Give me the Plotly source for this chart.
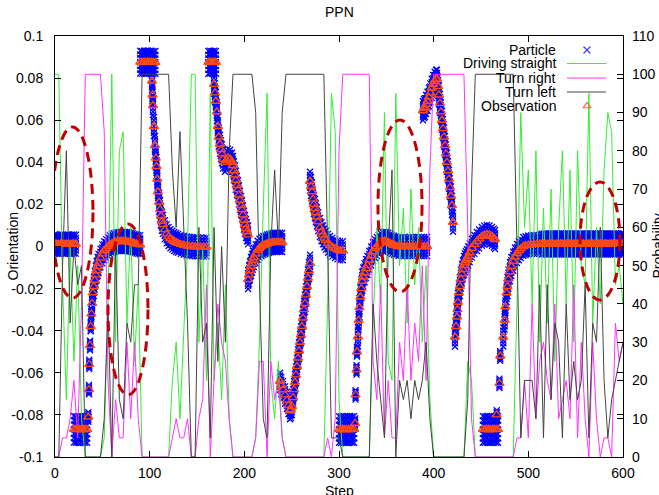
import plotly.graph_objects as go

# ---------------- text / ticks ----------------
title_text = "PPN"
x_title = "Step"
y_title = "Orientation"
y2_title = "Probability"
x_tick_vals = [0, 100, 200, 300, 400, 500, 600]
x_tick_text = ["0", "100", "200", "300", "400", "500", "600"]
y_tick_vals = [0.1, 0.08, 0.06, 0.04, 0.02, 0, -0.02, -0.04, -0.06, -0.08, -0.1]
y_tick_text = ["0.1", "0.08", "0.06", "0.04", "0.02", "0", "-0.02", "-0.04", "-0.06", "-0.08", "-0.1"]
y2_tick_vals = [0, 10, 20, 30, 40, 50, 60, 70, 80, 90, 100, 110]
y2_tick_text = ["0", "10", "20", "30", "40", "50", "60", "70", "80", "90", "100", "110"]

# ---------------- probabilities (every 4 steps) ----------------
prob_steps = list(range(0, 601, 4))
driving_straight = [
    100, 100, 45, 15, 55, 25, 50, 10, 0, 0,
    0, 0, 0, 5, 40, 100, 30, 80, 85, 35,
    60, 25, 45, 0, 0, 0, 0, 0, 0, 0,
    0, 20, 30, 10, 35, 55, 100, 100, 30, 55,
    20, 95, 20, 35, 15, 45, 10, 0, 0, 0,
    0, 0, 0, 5, 30, 65, 95, 20, 10, 25,
    5, 0, 0, 0, 0, 0, 0, 0, 0, 0,
    0, 0, 40, 95, 85, 15, 0, 0, 0, 0,
    0, 0, 0, 0, 35, 60, 40, 90, 25, 20,
    95, 50, 65, 35, 70, 45, 60, 30, 50, 15,
    0, 0, 0, 0, 0, 0, 0, 0, 0, 25,
    20, 0, 0, 0, 0, 0, 0, 0, 0, 0,
    0, 0, 40, 90, 60, 75, 40, 80, 30, 65,
    35, 70, 25, 60, 80, 40, 75, 30, 80, 50,
    45, 95, 35, 60, 40, 75, 90, 85, 45, 50,
    40]
turn_right = [
    0, 0, 5, 5, 10, 20, 5, 40, 100, 100,
    100, 100, 100, 85, 20, 0, 15, 5, 5, 30,
    10, 30, 10, 0, 0, 0, 0, 0, 0, 0,
    0, 5, 10, 5, 5, 10, 0, 0, 10, 15,
    45, 0, 20, 40, 30, 25, 10, 0, 0, 0,
    0, 0, 0, 5, 25, 25, 0, 25, 15, 20,
    5, 0, 0, 0, 0, 0, 0, 0, 0, 0,
    0, 0, 5, 0, 10, 80, 100, 100, 100, 100,
    100, 100, 100, 100, 25, 15, 45, 5, 20, 5,
    5, 30, 20, 45, 20, 35, 25, 50, 20, 75,
    100, 100, 100, 100, 100, 100, 100, 100, 100, 60,
    10, 0, 0, 0, 0, 0, 0, 0, 0, 0,
    0, 0, 5, 5, 20, 5, 40, 10, 25, 30,
    20, 15, 40, 10, 15, 20, 10, 45, 5, 30,
    10, 0, 30, 10, 0, 5, 5, 0, 35, 25,
    30]
turn_left = [
    0, 0, 50, 80, 35, 55, 45, 50, 0, 0,
    0, 0, 0, 10, 40, 0, 55, 15, 10, 35,
    30, 45, 45, 100, 100, 100, 100, 100, 100, 100,
    100, 75, 60, 85, 60, 35, 0, 0, 60, 30,
    35, 5, 60, 25, 55, 30, 80, 100, 100, 100,
    100, 100, 100, 90, 45, 10, 5, 55, 75, 55,
    90, 100, 100, 100, 100, 100, 100, 100, 100, 100,
    100, 100, 55, 5, 5, 5, 0, 0, 0, 0,
    0, 0, 0, 0, 40, 25, 15, 5, 55, 75,
    0, 20, 15, 20, 10, 20, 15, 20, 30, 10,
    0, 0, 0, 0, 0, 0, 0, 0, 0, 15,
    70, 100, 100, 100, 100, 100, 100, 100, 100, 100,
    100, 100, 55, 5, 20, 20, 20, 10, 45, 5,
    45, 15, 35, 30, 5, 40, 15, 25, 15, 20,
    45, 5, 35, 30, 60, 20, 5, 15, 20, 25,
    30]
for arr in (driving_straight, turn_right, turn_left):
    if len(arr) != len(prob_steps):
        raise ValueError("length mismatch %d" % len(arr))

# ---------------- observations (segments) ----------------
seg_a_steps = [0, 2, 4, 6, 8, 10, 12, 14, 16, 18, 20, 22]
seg_a_vals = [0.0012, 0.0011, 0.0010, 0.0012, 0.0011, 0.0010, 0.0011, 0.0012, 0.0010, 0.0011, 0.0012, 0.0011]
seg_b_steps = [20, 22, 24, 26, 28, 30, 32, 34]
seg_b_vals = [-0.0868, -0.0870, -0.0869, -0.0871, -0.0868, -0.0870, -0.0869, -0.0870]
seg_b2_steps = [35.2, 35.9, 36.2, 37.0, 37.7, 38.4]
seg_b2_vals = [-0.081, -0.068, -0.056, -0.047, -0.038, -0.032]
seg_c_steps = [39.2, 40, 41, 42, 43, 44, 45, 46, 48, 50, 52, 54, 56, 58, 60, 62, 64, 66, 68, 70,
               72, 74, 76, 78, 80, 82, 84, 86, 88, 90]
seg_c_vals = [-0.027, -0.022, -0.019, -0.016, -0.0135, -0.0115, -0.0095, -0.008, -0.0055, -0.0035,
              -0.002, -0.001, 0.0, 0.0008, 0.0014, 0.0018, 0.0021, 0.0023, 0.0024, 0.0025,
              0.0025, 0.0024, 0.0023, 0.0022, 0.002, 0.0018, 0.0015, 0.0012, 0.001, 0.0008]
seg_d_steps = [90, 92, 94, 96, 98, 100, 102, 104, 106]
seg_d_vals = [0.0876, 0.0874, 0.0876, 0.0875, 0.0877, 0.0875, 0.0876, 0.0874, 0.0875]
seg_e_steps = [102.5, 103, 103.5, 104.5, 105.6, 106.5, 107.2, 108, 108.8, 110, 111, 112, 113, 114,
               116, 118, 120, 122, 124, 126, 128, 130, 133, 136, 139, 142, 145, 148, 151, 154, 157, 160]
seg_e_vals = [0.0786, 0.072, 0.067, 0.057, 0.048, 0.042, 0.038, 0.032, 0.026, 0.021, 0.0175, 0.0145,
              0.012, 0.0105, 0.008, 0.006, 0.0047, 0.0037, 0.003, 0.0024, 0.0019, 0.0015, 0.001,
              0.0006, 0.0003, 0.0001, 0.0, -0.0001, -0.0002, -0.0003, -0.0003, -0.0002]
seg_f_steps = [162, 164, 166, 168, 170]
seg_f_vals = [0.0875, 0.0876, 0.0874, 0.0876, 0.0875]
seg_g_steps = [168, 169, 170, 171, 172, 173, 174.3, 175.3, 176.4, 177.5, 179.6, 181, 182.7, 185, 187,
               188, 189, 190, 191, 192.2, 193.3, 194.4, 195.4, 196.5, 197.5, 198.6, 199.6, 200.7,
               201.8, 202.8, 203.9]
seg_g_vals = [0.077, 0.073, 0.069, 0.064, 0.057, 0.052, 0.0486, 0.046, 0.044, 0.0415, 0.040, 0.041,
              0.042, 0.0415, 0.040, 0.0385, 0.036, 0.034, 0.0315, 0.029, 0.027, 0.0245, 0.022,
              0.0195, 0.0175, 0.015, 0.0125, 0.0105, 0.0085, 0.007, 0.0055]
seg_h_steps = [204, 205, 206, 207, 208, 209, 210, 212, 214, 216, 218, 220, 222, 224, 226, 228, 230,
               232, 234, 236, 238, 240]
seg_h_vals = [-0.0157, -0.0135, -0.0115, -0.0095, -0.008, -0.0065, -0.0052, -0.0035, -0.0018,
              -0.0008, 0.0, 0.0005, 0.0009, 0.0012, 0.0015, 0.0017, 0.0019, 0.002, 0.002, 0.002,
              0.002, 0.0019]
seg_i_steps = [237.7, 239, 240.8, 243, 245, 246.6, 248.2, 249.3, 250.3, 251.5, 252.5, 253.5, 254.5,
               255.6, 256.7, 257.7, 258.8, 259.8, 260.9, 262, 263, 264, 265, 266.2, 267.2, 268.3, 269.4]
seg_i_vals = [-0.064, -0.066, -0.068, -0.0705, -0.073, -0.0755, -0.078, -0.0775, -0.076, -0.0718,
              -0.068, -0.0645, -0.061, -0.057, -0.053, -0.0495, -0.0455, -0.042, -0.038, -0.034,
              -0.030, -0.027, -0.023, -0.019, -0.015, -0.0115, -0.008]
seg_j_steps = [269.4, 270.4, 271.5, 272.5, 273.5, 274.6, 275.6, 276.7, 278, 279.9, 281.5, 283, 284.6,
               286.3, 288.4, 290.5, 293, 295.8, 298.4, 301, 304]
seg_j_vals = [0.031, 0.0285, 0.026, 0.0225, 0.020, 0.018, 0.016, 0.014, 0.0118, 0.009, 0.007, 0.0055,
              0.004, 0.003, 0.0015, 0.0005, -0.0003, -0.001, -0.0016, -0.002, -0.002]
seg_k_steps = [300, 302, 304, 306, 308, 310, 312, 314, 316]
seg_k_vals = [-0.0869, -0.0871, -0.0868, -0.0870, -0.0869, -0.0871, -0.0868, -0.0870, -0.0869]
seg_l_steps = [317, 317.5, 318.5, 319]
seg_l_vals = [-0.084, -0.0705, -0.0586, -0.050]
seg_m_steps = [320, 320.8, 321.6, 322.6, 323.6, 324.6, 325.6, 327, 328.5, 330, 332, 334, 336, 338,
               340, 342, 344, 346, 348, 350, 352, 354, 356, 358, 360, 363, 366, 369, 372, 375, 378,
               381, 384, 387, 390, 393]
seg_m_vals = [-0.0429, -0.035, -0.029, -0.024, -0.020, -0.0165, -0.0145, -0.0125, -0.0105, -0.009,
              -0.0065, -0.0045, -0.0025, -0.001, 0.0, 0.001, 0.0018, 0.0023, 0.0025, 0.0024, 0.002,
              0.0015, 0.001, 0.0006, 0.0003, 0.0, 0.0, 0.0, -0.0001, 0.0, 0.0, 0.0001, 0.0, 0.0, 0.0, 0.0]
seg_n_steps = [388.7, 389.7, 390.8, 392, 393.5, 395, 396.5, 398, 399.5, 401, 402.5, 403.5, 404.6,
               405.6, 406.7, 407.7, 408.8, 409.8, 410.9, 412, 413, 414, 415.1, 416.2, 417.2, 418.3,
               419.3, 420.4]
seg_n_vals = [0.0645, 0.0655, 0.066, 0.0675, 0.069, 0.071, 0.073, 0.0752, 0.077, 0.0785, 0.0795,
              0.0795, 0.076, 0.072, 0.068, 0.064, 0.060, 0.056, 0.052, 0.048, 0.044, 0.040, 0.036,
              0.032, 0.028, 0.024, 0.0195, 0.0115]
seg_p_steps = [422.5, 423.6, 424.6, 425.1, 425.6, 426.6, 427.7, 428.8, 429.8, 430.9, 432, 433, 434,
               435.1, 436.5, 438, 440.4, 443, 445.7, 448, 451, 453.5, 456.3, 459, 461.6, 463.5, 464.8]
seg_p_vals = [-0.043, -0.038, -0.0335, -0.030, -0.0265, -0.022, -0.019, -0.0155, -0.013, -0.011,
              -0.009, -0.0077, -0.0067, -0.0058, -0.0045, -0.003, -0.0008, 0.001, 0.0024, 0.0036,
              0.0048, 0.0054, 0.0057, 0.0055, 0.0048, 0.004, 0.0033]
seg_q_steps = [452, 454, 456, 458, 460, 462, 464, 466, 468]
seg_q_vals = [-0.0869, -0.0870, -0.0868, -0.0871, -0.0869, -0.0870, -0.0868, -0.0870, -0.0869]
seg_r1_steps = [466.6, 469.5, 470.3]
seg_r1_vals = [-0.080, -0.065, -0.052]
seg_r2_steps = [473.5, 475, 475.8, 477, 478, 479, 480.6, 482, 484, 485.9, 488, 490, 492, 494.7, 497,
                500, 503, 506, 509, 512]
seg_r2_vals = [-0.043, -0.035, -0.0286, -0.022, -0.019, -0.0155, -0.012, -0.0095, -0.007, -0.005,
               -0.0033, -0.002, -0.001, 0.0, 0.0004, 0.0007, 0.0009, 0.001, 0.001, 0.0011]
seg_s_steps = [514, 516, 518, 520, 522, 524, 526, 528, 530, 532, 534, 536, 538, 540, 542, 544, 546,
               548, 550, 552, 554, 556, 558, 560, 562, 564, 566, 568, 570, 572, 574, 576, 578, 580,
               582, 584, 586, 588, 590, 592, 594, 596, 598, 600]
seg_s_vals = [0.0011, 0.0012, 0.0012, 0.0011, 0.0012, 0.0013, 0.0012, 0.0011, 0.0012, 0.0012,
              0.0013, 0.0012, 0.0011, 0.0012, 0.0012, 0.0013, 0.0012, 0.0012, 0.0011, 0.0012,
              0.0013, 0.0012, 0.0012, 0.0011, 0.0012, 0.0012, 0.0013, 0.0012, 0.0012, 0.0011,
              0.0012, 0.0012, 0.0013, 0.0012, 0.0012, 0.0011, 0.0012, 0.0012, 0.0013, 0.0012,
              0.0012, 0.0011, 0.0012, 0.0012]

# particle cloud spread (relative) per segment
segments = [
    (seg_a_steps, seg_a_vals, 1.0), (seg_b_steps, seg_b_vals, 1.4), (seg_b2_steps, seg_b2_vals, 0.5),
    (seg_c_steps, seg_c_vals, 1.0), (seg_d_steps, seg_d_vals, 1.2), (seg_e_steps, seg_e_vals, 1.0),
    (seg_f_steps, seg_f_vals, 1.2), (seg_g_steps, seg_g_vals, 1.0), (seg_h_steps, seg_h_vals, 1.0),
    (seg_i_steps, seg_i_vals, 0.9), (seg_j_steps, seg_j_vals, 1.0), (seg_k_steps, seg_k_vals, 1.4),
    (seg_l_steps, seg_l_vals, 0.5), (seg_m_steps, seg_m_vals, 1.0), (seg_n_steps, seg_n_vals, 1.0),
    (seg_p_steps, seg_p_vals, 1.0), (seg_q_steps, seg_q_vals, 1.4), (seg_r1_steps, seg_r1_vals, 0.5),
    (seg_r2_steps, seg_r2_vals, 1.0), (seg_s_steps, seg_s_vals, 1.1),
]
particle_offsets = [-0.0045, -0.003, -0.0015, 0.0, 0.0015, 0.003, 0.0045]

obs_x, obs_y, part_x, part_y = [], [], [], []
for steps, vals, spread in segments:
    if len(steps) != len(vals):
        raise ValueError("segment mismatch %d %d" % (len(steps), len(vals)))
    for s, v in zip(steps, vals):
        obs_x.append(s)
        obs_y.append(v)
        for o in particle_offsets:
            part_x.append(s)
            part_y.append(v + o * spread)

# highlighted regions (dashed ellipses) in data units: x0, x1, y0, y1
highlight_regions = [
    (-3.2, 40.1, -0.0245, 0.0568),
    (56.0, 98.2, -0.0705, 0.0107),
    (341.2, 387.7, -0.0216, 0.0601),
    (554.6, 596.8, -0.0254, 0.0306),
]

C_PART = "#0000ff"
C_GREEN = "#33ee33"
C_MAG = "#ff33ff"
C_LEFT = "#444444"
C_OBS = "#ff4a14"

fig = go.Figure()
fig.add_trace(go.Scatter(x=part_x, y=part_y, mode="markers", name="Particle",
                         marker=dict(symbol="x-thin-open", size=6, color=C_PART, opacity=1,
                                     line=dict(color=C_PART, width=1.3)),
                         xaxis="x", yaxis="y", hoverinfo="skip"))
fig.add_trace(go.Scatter(x=prob_steps, y=driving_straight, mode="lines", name="Driving straight",
                         line=dict(color=C_GREEN, width=1), xaxis="x", yaxis="y2"))
fig.add_trace(go.Scatter(x=prob_steps, y=turn_right, mode="lines", name="Turn right",
                         line=dict(color=C_MAG, width=1), xaxis="x", yaxis="y2"))
fig.add_trace(go.Scatter(x=prob_steps, y=turn_left, mode="lines", name="Turn left",
                         line=dict(color=C_LEFT, width=1), xaxis="x", yaxis="y2"))
fig.add_trace(go.Scatter(x=obs_x, y=obs_y, mode="markers", name="Observation",
                         marker=dict(symbol="triangle-up-open", size=8, color=C_OBS, opacity=1,
                                     line=dict(color=C_OBS, width=1.4)),
                         xaxis="x", yaxis="y3"))

# custom gnuplot-like key
legend_labels = ["Particle", "Driving straight", "Turn right", "Turn left", "Observation"]
legend_rows = [0.9667, 0.9347, 0.9002, 0.8670, 0.8337]
fig.add_trace(go.Scatter(x=[0.9366], y=[legend_rows[0]], mode="markers",
                         marker=dict(symbol="x-thin-open", size=7, color="#3a3aff",
                                     line=dict(color="#3a3aff", width=1.2)),
                         xaxis="x2", yaxis="y4", hoverinfo="skip"))
fig.add_trace(go.Scatter(x=[0.9366], y=[legend_rows[4]], mode="markers",
                         marker=dict(symbol="triangle-up-open", size=7, color="#ff6a40",
                                     line=dict(color="#ff6a40", width=1.2)),
                         xaxis="x2", yaxis="y4", hoverinfo="skip"))

annotations = []
for lab, yy in zip(legend_labels, legend_rows):
    annotations.append(dict(text=lab, x=0.8856, y=yy, xref="paper", yref="paper",
                            xanchor="right", yanchor="middle", showarrow=False,
                            font=dict(size=14, color="black")))
annotations += [
    dict(text=title_text, x=0.5, y=1.057, xref="paper", yref="paper", showarrow=False,
         xanchor="center", yanchor="middle", font=dict(size=14)),
    dict(text=x_title, x=0.5, y=-0.08, xref="paper", yref="paper", showarrow=False,
         xanchor="center", yanchor="middle", font=dict(size=14)),
    dict(text=y_title, x=-0.0757, y=0.5, xref="paper", yref="paper", showarrow=False,
         textangle=-90, xanchor="center", yanchor="middle", font=dict(size=14)),
    dict(text=y2_title, x=1.060, y=0.5, xref="paper", yref="paper", showarrow=False,
         textangle=-90, xanchor="center", yanchor="middle", font=dict(size=14)),
]

shapes = []
for col, yy in zip([C_GREEN, C_MAG, C_LEFT], legend_rows[1:4]):
    shapes.append(dict(type="line", xref="paper", yref="paper", x0=0.9014, x1=0.9701, y0=yy, y1=yy,
                       line=dict(color=col, width=1)))
for x0, x1, y0, y1 in highlight_regions:
    shapes.append(dict(type="circle", xref="x", yref="y", x0=x0, x1=x1, y0=y0, y1=y1,
                       line=dict(color="#c00000", width=3, dash="10px,6px"), layer="above"))

axis_common = dict(ticks="inside", ticklen=6, tickcolor="black", showgrid=False, zeroline=False,
                   automargin=False, tickfont=dict(size=14, color="black"))
fig.update_layout(
    width=659, height=495, autosize=False,
    margin=dict(l=55, r=36, t=36, b=38, autoexpand=False),
    paper_bgcolor="white", plot_bgcolor="white",
    font=dict(family="Liberation Sans, Arial, sans-serif", size=14, color="black"),
    showlegend=False,
    xaxis=dict(range=[0, 600], tickvals=x_tick_vals, ticktext=x_tick_text, showline=True,
               linecolor="black", linewidth=1, mirror="ticks", ticklabelstandoff=3, **axis_common),
    yaxis=dict(range=[-0.1, 0.1], tickvals=y_tick_vals, ticktext=y_tick_text, showline=True,
               linecolor="black", linewidth=1, mirror="ticks", ticklabelstandoff=8, **axis_common),
    yaxis2=dict(range=[0, 110], overlaying="y", side="right", tickvals=y2_tick_vals,
                ticktext=y2_tick_text, showline=False, ticklabelstandoff=8, **axis_common),
    yaxis3=dict(range=[-0.1, 0.1], overlaying="y", visible=False),
    xaxis2=dict(range=[0, 1], overlaying="x", visible=False),
    yaxis4=dict(range=[0, 1], overlaying="y", visible=False),
    annotations=annotations,
    shapes=shapes,
)
fig.write_html("out.html", config={"displayModeBar": False},
               post_script="document.body.style.margin='0';document.body.style.overflow='hidden';")
